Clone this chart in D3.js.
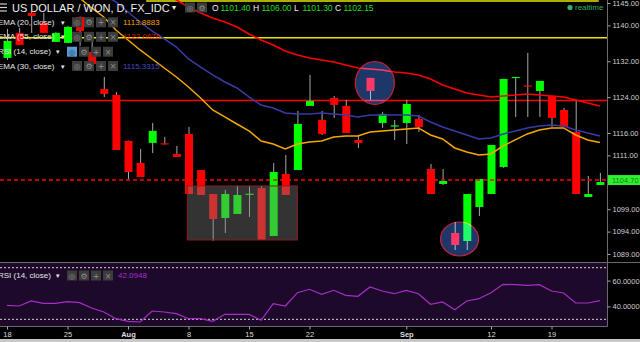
<!DOCTYPE html>
<html>
<head>
<meta charset="utf-8">
<script src="https://cdn.jsdelivr.net/npm/d3@7"></script>
<style>
  html, body { margin: 0; padding: 0; background: #000; }
  svg { display: block; font-family: "Liberation Sans", Arial, sans-serif; }
</style>
</head>
<body>
<div id="chart"></div>
<script>
// USD/KRW daily candles, Jul 18 - Sep 23 (one entry per trading day)
const candleOpen = [1132.75, 1138.33, 1142.79, 1140.56, 1136.32, 1136.10, 1141.90, 1134.09, 1125.83, 1124.49,
  1114.22, 1109.31, 1113.78, 1113.70, 1111.32, 1115.79, 1107.75, 1102.39, 1097.04, 1097.93,
  1102.30, 1103.73, 1093.02, 1106.86, 1107.75, 1122.04, 1118.91, 1123.82, 1122.04, 1114.45,
  1128.29, 1118.24, 1117.50, 1118.24, 1119.13, 1107.97, 1104.63, 1093.69, 1091.90, 1099.49,
  1102.39, 1108.42, 1128.40, 1126.60, 1125.38, 1124.27, 1121.14, 1116.23, 1101.72, 1104.40];
const candleHigh = [1139.22, 1139.45, 1143.00, 1142.79, 1138.50, 1139.90, 1142.00, 1136.32, 1128.51, 1125.16,
  1114.30, 1112.44, 1118.24, 1115.12, 1113.11, 1117.35, 1107.75, 1102.39, 1103.29, 1104.18,
  1104.18, 1104.18, 1109.31, 1111.10, 1120.92, 1128.96, 1120.92, 1124.27, 1123.38, 1115.56,
  1128.29, 1120.70, 1118.91, 1123.38, 1120.03, 1109.09, 1107.97, 1096.14, 1102.39, 1105.74,
  1113.33, 1128.06, 1128.51, 1133.87, 1127.62, 1124.27, 1121.59, 1123.38, 1106.41, 1107.08];
const candleLow = [1132.30, 1135.65, 1138.33, 1138.33, 1136.32, 1136.10, 1135.43, 1131.41, 1124.04, 1112.21,
  1105.74, 1106.19, 1111.54, 1113.45, 1110.65, 1102.39, 1102.17, 1091.90, 1093.69, 1097.93,
  1097.26, 1092.13, 1093.02, 1102.17, 1107.75, 1122.04, 1115.56, 1119.36, 1116.01, 1112.66,
  1123.38, 1117.13, 1114.45, 1113.55, 1116.23, 1102.39, 1104.40, 1089.89, 1089.89, 1097.48,
  1102.39, 1108.20, 1119.58, 1119.58, 1119.58, 1117.35, 1117.35, 1102.39, 1101.72, 1104.40];
const candleClose = [1136.54, 1135.65, 1142.12, 1138.33, 1138.33, 1139.67, 1138.78, 1131.41, 1124.71, 1112.21,
  1107.30, 1106.19, 1116.46, 1113.45, 1110.65, 1102.39, 1102.17, 1096.81, 1102.39, 1102.17,
  1102.45, 1092.13, 1107.30, 1102.17, 1118.02, 1123.15, 1115.79, 1122.26, 1116.01, 1113.78,
  1125.38, 1120.25, 1117.70, 1122.48, 1117.35, 1102.39, 1105.29, 1091.01, 1102.39, 1105.74,
  1113.33, 1128.06, 1128.51, 1126.40, 1127.62, 1119.36, 1117.35, 1102.39, 1102.39, 1105.07];

const ema20 = [1159.06, 1156.83, 1154.60, 1152.37, 1150.13, 1147.90, 1146.12, 1143.89, 1141.88, 1138.98,
  1136.75, 1134.52, 1132.51, 1130.50, 1128.49, 1126.26, 1123.82, 1121.14, 1119.58, 1118.00,
  1116.46, 1114.22, 1113.55, 1112.44, 1113.55, 1114.00, 1114.22, 1115.12, 1115.34, 1115.34,
  1116.23, 1116.46, 1116.68, 1116.90, 1117.13, 1115.56, 1114.67, 1112.66, 1111.77, 1111.10,
  1111.32, 1113.11, 1114.45, 1115.79, 1116.68, 1117.13, 1117.13, 1115.56, 1114.45, 1113.89];
const ema30 = [1163.52, 1161.29, 1159.06, 1156.83, 1154.60, 1152.37, 1150.13, 1148.35, 1146.79, 1145.23,
  1143.00, 1140.76, 1138.75, 1136.97, 1135.18, 1132.51, 1130.72, 1128.94, 1127.38, 1126.04,
  1124.04, 1122.24, 1121.57, 1120.46, 1120.23, 1120.23, 1120.46, 1120.23, 1120.01, 1119.57,
  1120.01, 1120.01, 1120.01, 1120.01, 1119.79, 1118.45, 1117.34, 1116.44, 1115.55, 1114.66,
  1114.88, 1115.77, 1116.44, 1117.11, 1117.56, 1117.78, 1117.56, 1116.67, 1116.00, 1115.33];
const ema55 = [1164.41, 1163.07, 1161.73, 1160.40, 1159.06, 1157.72, 1156.38, 1155.04, 1153.70, 1152.37,
  1151.03, 1149.69, 1148.35, 1147.01, 1145.67, 1144.11, 1142.77, 1141.66, 1140.76, 1139.65,
  1138.09, 1136.75, 1135.63, 1134.29, 1133.40, 1132.73, 1132.28, 1131.84, 1131.17, 1130.50,
  1130.27, 1130.05, 1129.61, 1129.38, 1128.94, 1128.05, 1126.71, 1125.81, 1124.92, 1124.48,
  1124.04, 1124.26, 1124.48, 1124.70, 1124.48, 1124.26, 1124.04, 1123.37, 1122.70, 1122.02];

const rsi14 = [40.85, 40.31, 44.19, 42.40, 42.40, 43.64, 42.87, 38.76, 35.66, 30.47,
  28.45, 27.91, 36.43, 35.66, 34.34, 30.47, 30.47, 28.45, 33.88, 33.88,
  33.88, 29.22, 42.09, 40.31, 50.62, 53.26, 49.38, 52.48, 48.60, 47.83,
  55.04, 51.94, 49.84, 52.48, 49.84, 41.63, 43.41, 37.44, 44.19, 45.97,
  50.62, 57.13, 56.82, 56.36, 56.82, 51.94, 50.39, 42.64, 42.64, 44.42];

// axis ticks
const dateTickIndex = [0, 5, 10, 15, 20, 25, 33, 40, 45];
const dateTickText = ['18', '25', 'Aug', '8', '15', '22', 'Sep', '12', '19'];
const priceTicks = [1145, 1140, 1132, 1124, 1116, 1111, 1099, 1094, 1089];
const rsiTicks = [60, 40];
const rsiBands = [70, 30];

// drawings on the chart
const lastPrice = 1105.5;
const lastPriceText = '1104.70';
const yellowLevels = [1137.26, 1145.45];
const yellowStart = [-0.6, 11.5];
const yellowEnd = [49.6, 48.9];
const redLevel = 1123.26;
const boxIndex = [14.9, 24];
const boxPrice = [1104.18, 1092.13];
const circleIndex = [30.4, 37.4];
const circlePrice = [1127.15, 1092.35];

// Layout
const W = 640, H = 342;
const plotRight = 607;
const mainBottom = 262;
const rsiTop = 263, rsiBottom = 326;
const bodyWidth = 8;
const circleRadius = [[19.5, 21.5], [19, 17]];

const x = d3.scaleLinear().domain([0, 49]).range([7, 7 + 12.1 * 49]);
const y = d3.scaleLinear().domain([1089, 1145]).range([254, 3]);
const yRsi = d3.scaleLinear().domain([30, 70]).range([319.3, 267.7]);

const svg = d3.select('#chart').append('svg')
    .attr('width', W)
    .attr('height', H)
    .attr('viewBox', `0 0 ${W} ${H}`);

svg.append('rect').attr('width', W).attr('height', H).attr('fill', '#000');

const defs = svg.append('defs');
defs.append('clipPath').attr('id', 'mainClip')
    .append('rect').attr('x', 0).attr('y', 0).attr('width', plotRight).attr('height', mainBottom);
defs.append('clipPath').attr('id', 'rsiClip')
    .append('rect').attr('x', 0).attr('y', rsiTop).attr('width', plotRight).attr('height', rsiBottom - rsiTop);

const main = svg.append('g').attr('clip-path', 'url(#mainClip)');

// Horizontal drawings
yellowLevels.forEach((lv, k) => {
    main.append('line')
        .attr('x1', x(yellowStart[k])).attr('x2', x(yellowEnd[k]))
        .attr('y1', y(lv)).attr('y2', y(lv))
        .attr('stroke', '#e8e800').attr('stroke-width', 1.6);
});
main.append('line')
    .attr('x1', 0).attr('x2', plotRight)
    .attr('y1', y(redLevel)).attr('y2', y(redLevel))
    .attr('stroke', '#ff0000').attr('stroke-width', 1.5);

// Candles
const candles = candleOpen.map((o, i) => ({ i, o, h: candleHigh[i], l: candleLow[i], c: candleClose[i] }));
const cg = main.append('g');
candles.forEach(d => {
    const up = d.c >= d.o;
    cg.append('line')
        .attr('x1', x(d.i) + 0.5).attr('x2', x(d.i) + 0.5)
        .attr('y1', y(d.h)).attr('y2', y(d.l))
        .attr('stroke', '#a8a8a8').attr('stroke-width', 1);
    const top = y(Math.max(d.o, d.c));
    const bh = Math.max(1.2, Math.abs(y(d.o) - y(d.c)));
    cg.append('rect')
        .attr('x', x(d.i) - bodyWidth / 2 + 0.5)
        .attr('y', top)
        .attr('width', bodyWidth)
        .attr('height', bh)
        .attr('fill', up ? '#00ff00' : '#ff0000');
});

// EMA lines
const line = d3.line().x((d, i) => x(i)).y(d => y(d));
[[ema55, '#ff0000'], [ema30, '#3a3aa8'], [ema20, '#f5a800']].forEach(([s, col]) => {
    main.append('path').datum(s)
        .attr('d', line)
        .attr('fill', 'none')
        .attr('stroke', col)
        .attr('stroke-width', 1.5);
});

// Last price dashed line
main.append('line')
    .attr('x1', 0).attr('x2', plotRight)
    .attr('y1', y(lastPrice)).attr('y2', y(lastPrice))
    .attr('stroke', '#ff0000').attr('stroke-width', 1.5)
    .attr('stroke-dasharray', '4,3');

// Box and circles
main.append('rect')
    .attr('x', x(boxIndex[0])).attr('y', y(boxPrice[0]))
    .attr('width', x(boxIndex[1]) - x(boxIndex[0]))
    .attr('height', y(boxPrice[1]) - y(boxPrice[0]))
    .attr('fill', 'rgba(128,128,128,0.4)')
    .attr('stroke', '#8c1c1c').attr('stroke-width', 1);

circleIndex.forEach((ci, k) => {
    main.append('ellipse')
        .attr('cx', x(ci)).attr('cy', y(circlePrice[k]))
        .attr('rx', circleRadius[k][0]).attr('ry', circleRadius[k][1])
        .attr('fill', '#1d3868')
        .attr('stroke', '#c8203c').attr('stroke-width', 1.2)
        .style('mix-blend-mode', 'screen');
});

// RSI pane
svg.append('rect')
    .attr('x', 0).attr('y', rsiTop).attr('width', plotRight).attr('height', rsiBottom - rsiTop)
    .attr('fill', '#1d0a2b');
const rsiG = svg.append('g').attr('clip-path', 'url(#rsiClip)');
rsiBands.forEach(b => {
    rsiG.append('line')
        .attr('x1', 0).attr('x2', plotRight)
        .attr('y1', yRsi(b)).attr('y2', yRsi(b))
        .attr('stroke', '#d8d8d8').attr('stroke-width', 1)
        .attr('stroke-dasharray', '2,2');
});
rsiG.append('path').datum(rsi14)
    .attr('d', d3.line().x((d, i) => x(i)).y(d => yRsi(d)))
    .attr('fill', 'none')
    .attr('stroke', '#a82cc8')
    .attr('stroke-width', 1.2);

// Pane borders
svg.append('line').attr('x1', 0).attr('x2', W).attr('y1', 262.5).attr('y2', 262.5)
    .attr('stroke', '#6a6a6a').attr('stroke-width', 1);
svg.append('line').attr('x1', 0).attr('x2', plotRight + 0.5).attr('y1', rsiBottom + 0.5).attr('y2', rsiBottom + 0.5)
    .attr('stroke', '#6a6a6a').attr('stroke-width', 1);
svg.append('line').attr('x1', plotRight + 0.5).attr('x2', plotRight + 0.5).attr('y1', 0).attr('y2', rsiBottom + 0.5)
    .attr('stroke', '#6a6a6a').attr('stroke-width', 1);
svg.append('rect').attr('x', 0).attr('y', 339).attr('width', W).attr('height', 3).attr('fill', '#c8c8c8');

// Right price axis
const priceAxis = svg.append('g')
    .attr('transform', `translate(${plotRight + 0.5},0)`)
    .call(d3.axisRight(y).tickValues(priceTicks).tickSize(3).tickPadding(2).tickFormat(d3.format('.2f')));
const rsiAxis = svg.append('g')
    .attr('transform', `translate(${plotRight + 0.5},0)`)
    .call(d3.axisRight(yRsi).tickValues(rsiTicks).tickSize(3).tickPadding(2).tickFormat(d3.format('.4f')));
[priceAxis, rsiAxis].forEach(a => {
    a.select('.domain').remove();
    a.selectAll('line').attr('stroke', '#aaa');
    a.selectAll('text').attr('fill', '#cfcfcf').attr('font-size', 7.5)
        .attr('font-family', '"Liberation Sans", Arial, sans-serif');
});

// Last price label
svg.append('rect')
    .attr('x', plotRight + 1).attr('y', y(lastPrice) - 5)
    .attr('width', W - plotRight - 1).attr('height', 10)
    .attr('fill', '#2ef02e');
svg.append('text')
    .attr('x', plotRight + 5).attr('y', y(lastPrice))
    .attr('dominant-baseline', 'central')
    .attr('font-size', 7.5).attr('fill', '#1f7a1f')
    .text(lastPriceText);

// Bottom time axis
const timeAxis = svg.append('g')
    .attr('transform', `translate(0,${rsiBottom + 0.5})`)
    .call(d3.axisBottom(x).tickValues(dateTickIndex).tickSize(3).tickPadding(2)
        .tickFormat((d, i) => dateTickText[i]));
timeAxis.select('.domain').remove();
timeAxis.selectAll('line').attr('stroke', '#aaa');
timeAxis.selectAll('text')
    .attr('fill', '#dcdcdc').attr('font-size', 7.5)
    .attr('font-family', '"Liberation Sans", Arial, sans-serif')
    .attr('font-weight', d => (d === 10 || d === 33) ? 'bold' : 'normal');

// Legend overlay
const leg = svg.append('g');
function iconBoxes(xs, yc, glyphs, highlight) {
    xs.forEach((bx, k) => {
        leg.append('rect')
            .attr('x', bx).attr('y', yc - 5).attr('width', 10).attr('height', 10)
            .attr('fill', highlight && k === 0 ? '#5b9bd5' : '#3c3c3c');
        leg.append('text')
            .attr('x', bx + 5).attr('y', yc + 0.5)
            .attr('text-anchor', 'middle').attr('dominant-baseline', 'central')
            .attr('font-family', '"DejaVu Sans", sans-serif').attr('font-size', 8)
            .attr('fill', highlight && k === 0 ? '#1a3a66' : '#8e8e8e')
            .text(glyphs[k]);
    });
}

// hamburger icon
[4, 7.5, 11].forEach(yy => {
    leg.append('line').attr('x1', 0).attr('x2', 7).attr('y1', yy).attr('y2', yy)
        .attr('stroke', '#cfcfcf').attr('stroke-width', 1.2);
});
leg.append('text')
    .attr('x', 12).attr('y', 7.5).attr('dominant-baseline', 'central')
    .attr('font-size', 11).attr('fill', '#f0f0f0')
    .text('US DOLLAR / WON, D, FX_IDC');
leg.append('text')
    .attr('x', 172).attr('y', 7.5).attr('dominant-baseline', 'central')
    .attr('font-size', 8).attr('fill', '#f0f0f0').text('▾');
iconBoxes([185, 197], 7.5, ['◎', '⚙']);

const ohlc = [['O', '1101.40'], ['H', '1106.00'], ['L', '1101.30'], ['C', '1102.15']];
let ox = 212;
ohlc.forEach(([k, v]) => {
    leg.append('text').attr('x', ox).attr('y', 7.5).attr('dominant-baseline', 'central')
        .attr('font-size', 8.5).attr('fill', '#f0f0f0').text(k);
    leg.append('text').attr('x', ox + 8.5).attr('y', 7.5).attr('dominant-baseline', 'central')
        .attr('font-size', 8.5).attr('fill', '#22dd22').text(v);
    ox += 41;
});

const legendRows = [
    { label: 'EMA (20, close)', yc: 22.3, value: '1113.8883', color: '#f0a000', icons: 72, arrow: 61 },
    { label: 'EMA (55, close)', yc: 36.8, value: '1122.0676', color: '#d81010', icons: 72, arrow: 61 },
    { label: 'RSI (14, close)', yc: 51.7, value: null, color: null, icons: 67, arrow: 56, hl: true },
    { label: 'EMA (30, close)', yc: 66, value: '1115.3315', color: '#4848c8', icons: 72, arrow: 61 }
];
legendRows.forEach(r => {
    leg.append('text').attr('x', -2).attr('y', r.yc).attr('dominant-baseline', 'central')
        .attr('font-size', 8).attr('fill', '#e6e6e6').text(r.label);
    leg.append('text').attr('x', r.arrow).attr('y', r.yc).attr('dominant-baseline', 'central')
        .attr('font-size', 7).attr('fill', '#e6e6e6').text('▾');
    iconBoxes([r.icons, r.icons + 12, r.icons + 24, r.icons + 36], r.yc, ['◎', '⚙', '+', '×'], r.hl);
    if (r.value) {
        leg.append('text').attr('x', 123).attr('y', r.yc).attr('dominant-baseline', 'central')
            .attr('font-size', 8).attr('fill', r.color).text(r.value);
    }
});

// RSI legend
leg.append('text').attr('x', -2).attr('y', 275.5).attr('dominant-baseline', 'central')
    .attr('font-size', 8).attr('fill', '#e6e6e6').text('RSI (14, close)');
leg.append('text').attr('x', 56).attr('y', 275.5).attr('dominant-baseline', 'central')
    .attr('font-size', 7).attr('fill', '#e6e6e6').text('▾');
iconBoxes([67, 79, 91, 103], 275.5, ['◎', '⚙', '+', '×']);
leg.append('text').attr('x', 118).attr('y', 275.5).attr('dominant-baseline', 'central')
    .attr('font-size', 8).attr('fill', '#a82cc8').text('42.0948');

// realtime badge
leg.append('circle').attr('cx', 570).attr('cy', 7.5).attr('r', 2.6).attr('fill', '#2fb36a');
leg.append('text').attr('x', 575).attr('y', 7.5).attr('dominant-baseline', 'central')
    .attr('font-size', 8).attr('fill', '#2fb36a').text('realtime');
</script>
</body>
</html>
